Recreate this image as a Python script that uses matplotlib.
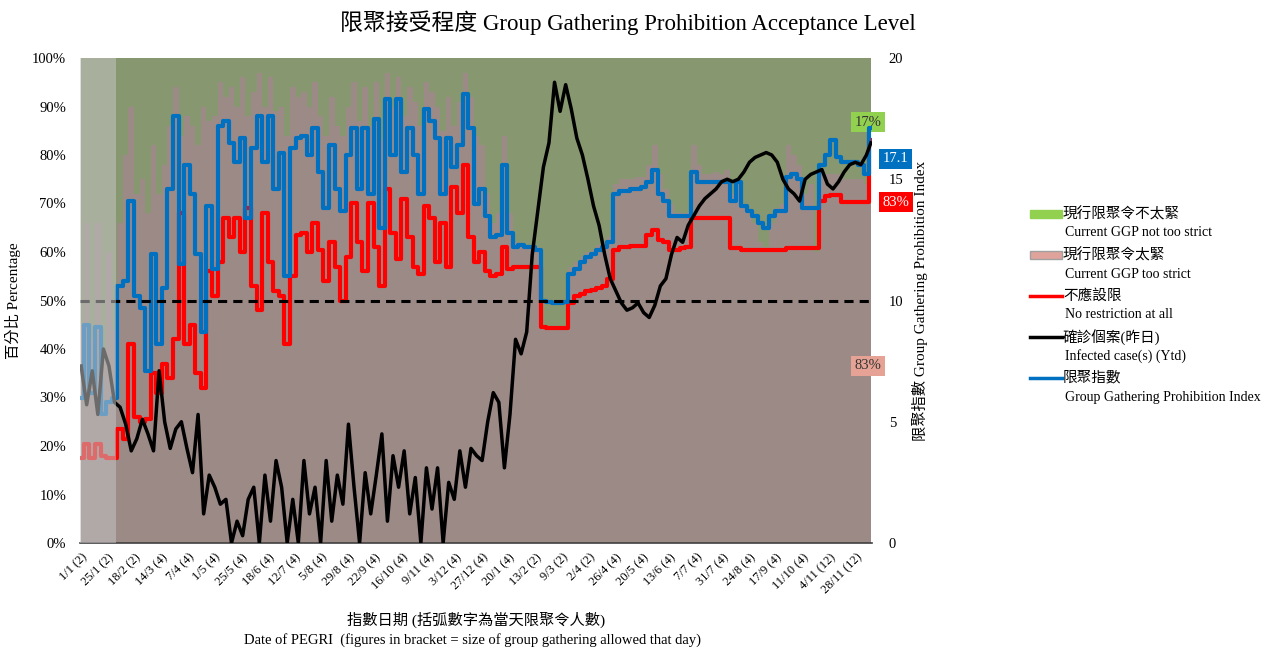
import numpy as np
import matplotlib
matplotlib.use("Agg")
import matplotlib.pyplot as plt
from matplotlib.patches import Rectangle
from matplotlib.lines import Line2D

FAM = ['Liberation Serif', 'Noto Sans CJK TC', 'DejaVu Sans']
plt.rcParams['font.family'] = FAM

# ---------------- data (sampled every 5 days from 1/1/2020) ----------------
days = np.r_[np.arange(0, 706, 5), 709]

tick_labels = ['1/1 (2)', '25/1 (2)', '18/2 (2)', '14/3 (4)', '7/4 (4)', '1/5 (4)', '25/5 (4)',
               '18/6 (4)', '12/7 (4)', '5/8 (4)', '29/8 (4)', '22/9 (4)', '16/10 (4)', '9/11 (4)',
               '3/12 (4)', '27/12 (4)', '20/1 (4)', '13/2 (2)', '9/3 (2)', '2/4 (2)', '26/4 (4)',
               '20/5 (4)', '13/6 (4)', '7/7 (4)', '31/7 (4)', '24/8 (4)', '17/9 (4)', '11/10 (4)',
               '4/11 (12)', '28/11 (12)']

# share "current GGP too strict" (%), the rest up to 100% is "not too strict"
too_strict = [45, 66, 42, 66, 40, 60, 44, 66, 80, 90, 72, 75, 68, 82, 72, 78, 86, 94, 84, 88,
              86, 82, 90, 87, 88, 95, 92, 94, 90, 96, 88, 93, 97, 90, 96, 89,
              90, 84, 94, 92, 93, 90, 95, 88, 84, 92, 86, 84, 90, 95, 87, 94, 86, 95, 83, 97,
              90, 96, 88, 94, 91, 86, 95, 93, 90, 85, 92, 86, 91, 97, 92, 84,
              82, 72, 66, 68, 84, 68, 62, 61.5, 61.5, 61.5, 61, 44.5, 44.3, 44.3, 44.3, 44.3,
              57, 58, 59, 60, 60.5, 61.5, 62, 63, 74, 75, 75, 75, 75.5, 75.5, 78, 82, 76, 73, 70, 68,
              68, 68, 82, 78, 76, 76, 76.5, 76, 77, 72, 75, 69, 68, 66, 62, 61, 66, 69, 70, 82,
              80, 78, 72, 74, 60, 77, 76, 76, 76, 75, 75, 75, 75, 74, 83]

# "No restriction at all" (%)
no_restriction = [17.5, 20.5, 17.5, 20.5, 18, 17.5, 17.5, 23.5, 21.5, 41, 26, 25, 25.5, 35, 31, 37,
                  34, 42, 68, 41, 45, 35, 32, 56, 51, 58, 67, 63, 67, 60, 69, 53, 48, 68, 58, 52,
                  51, 41, 55, 63.5, 64, 60, 66, 60.5, 54, 62, 57, 50, 59, 70, 62, 56, 70, 61, 53, 73,
                  64, 58.5, 71, 63, 57, 55.5, 69.5, 67, 58, 66, 57, 73.5, 68, 78, 63, 58,
                  60, 56, 55, 55.5, 61, 56.5, 57, 57, 57, 57, 57, 44.5, 44.3, 44.3, 44.3, 44.3,
                  49.5, 51, 51.3, 52, 52.2, 52.5, 53, 54.5, 60.5, 61, 61, 61.2, 61.2, 61.3,
                  63.5, 64.5, 62.5, 62, 60.5, 60.5,
                  60.8, 61, 67, 67, 67, 67, 67, 67, 67, 60.8, 60.8, 60.4, 60.4, 60.4, 60.4, 60.4,
                  60.4, 60.4, 60.4, 60.9, 60.9, 60.9, 60.9, 60.9, 60.9, 70.5, 71.5, 71.7, 71.7,
                  70.4, 70.4, 70.4, 70.4, 70.4, 83]

# Infected cases (yesterday), right-axis scale
infected = [7.3, 5.7, 7.1, 5.3, 8.0, 7.3, 5.8, 5.6, 4.9, 3.8, 4.3, 5.1, 4.5, 3.8, 7.1, 5.0, 3.9, 4.7,
            5.0, 3.9, 2.9, 5.3, 1.2, 2.8, 2.3, 1.6, 1.8, 0, 0.9, 0.3, 1.8, 2.3, 0, 2.8, 0.9, 3.4,
            2.3, 0, 1.8, 0, 3.4, 1.2, 2.3, 0, 3.4, 0.9, 2.8, 1.6, 4.9, 2.3, 0, 2.9, 1.2, 2.8,
            4.5, 0.9, 3.6, 2.3, 3.8, 1.2, 2.7, 0, 3.1, 1.4, 3.1, 0, 2.5, 1.8, 3.8, 2.3, 3.9, 3.6,
            3.4, 5.0, 6.2, 5.8, 3.1, 5.3, 8.4, 7.8, 8.7, 11.9, 13.7, 15.5, 16.5, 19.0, 17.8, 18.9,
            17.9, 16.7, 16.0, 15.0, 13.9, 13.1, 11.9, 10.9, 10.4, 9.9, 9.6, 9.7, 9.9, 9.5, 9.3,
            9.8, 10.6, 10.9, 11.9, 12.6,
            12.4, 13.1, 13.5, 13.9, 14.2, 14.4, 14.6, 14.9, 15.0, 14.9, 15.0, 15.3, 15.7, 15.9,
            16.0, 16.1, 16.0, 15.7, 15.0, 14.6, 14.4, 14.1, 15.0, 15.2, 15.3, 15.4, 14.8, 14.6,
            14.9, 15.3, 15.6, 15.7, 15.6, 16.0, 16.5]

# Group Gathering Prohibition Index (right axis)
ggpi = [6.0, 9.0, 6.2, 8.9, 5.3, 5.8, 6.0, 10.6, 10.8, 14.1, 10.2, 9.7, 7.1, 11.9, 8.2, 10.5, 14.6,
        17.6, 11.5, 15.6, 14.4, 11.9, 8.7, 13.9, 11.3, 17.2, 17.4, 16.5, 15.7, 16.7, 13.4, 16.3,
        17.6, 15.7, 17.6, 14.6,
        16.1, 11.0, 16.3, 16.7, 16.8, 16.0, 17.1, 15.3, 13.8, 16.4, 14.6, 13.7, 16.0, 17.1, 14.6,
        17.1, 14.4, 17.5, 13.0, 18.3, 16.0, 18.3, 15.3, 17.1, 16.0, 14.4, 17.9, 17.4, 16.7, 14.4,
        16.7, 15.5, 16.4, 18.5, 17.1, 14.0,
        14.6, 13.5, 12.6, 12.7, 15.6, 12.8, 12.2, 12.3, 12.2, 12.2, 12.1, 10.0, 9.95, 9.9, 9.9,
        9.95, 11.1, 11.3, 11.6, 11.8, 11.9, 12.1, 12.2, 12.4, 14.4, 14.5, 14.5, 14.6, 14.6, 14.7,
        14.9, 15.4, 14.4, 14.1, 13.5, 13.5,
        13.5, 13.5, 15.3, 14.9, 14.9, 14.9, 14.9, 14.9, 14.9, 14.1, 14.9, 13.9, 13.7, 13.5, 13.2,
        13.0, 13.5, 13.7, 13.7, 15.1, 15.2, 15.0, 13.8, 13.8, 13.8, 15.6, 16.0, 16.6, 15.9, 15.7,
        15.7, 15.7, 15.6, 15.2, 17.1]

too_strict = np.array(too_strict, float)
no_restriction = np.array(no_restriction, float)
infected = np.array(infected, float)
ggpi = np.array(ggpi, float)

# ---------------- figure ----------------
W, H = 1277, 649
fig = plt.figure(figsize=(W / 100, H / 100), dpi=100)
ax = fig.add_axes([80 / W, 1 - 543 / H, 792 / W, 485 / H])
ax2 = ax.twinx()

PINK_AREA = '#9C8A87'
GREEN_AREA = '#87976F'
ax.fill_between(days, 0, too_strict, step='mid', color=PINK_AREA, lw=0, zorder=1)
ax.fill_between(days, too_strict, 100, step='mid', color=GREEN_AREA, lw=0, zorder=1)
ax.plot(days, no_restriction, drawstyle='steps-mid', color='#FF0000', lw=3.0, zorder=3)

ax2.plot(days, ggpi, drawstyle='steps-mid', color='#0070C0', lw=3.0, zorder=2)
ax2.plot(days, infected, color='black', lw=2.5, zorder=3)
ax2.axhline(10, color='black', lw=2.2, dashes=(3, 2), zorder=4)
# faded first period
ax2.axvspan(-1, 31, color='#C4C4C4', alpha=0.55, lw=0, zorder=10)

ax.set_xlim(-1, 710)
ax.set_ylim(0, 100)
ax2.set_ylim(0, 20)

ax.set_yticks(np.arange(0, 101, 10))
ax.set_yticklabels([f'{v}%' for v in range(0, 101, 10)], fontsize=10.5)
ax2.set_yticks([0, 5, 10, 15, 20])
ax2.set_yticklabels(['0', '5', '10', '15', '20'], fontsize=10.5)
ax.tick_params(axis='y', length=0, pad=10)
ax2.tick_params(axis='y', length=0, pad=12)

ax.set_xticks(np.arange(0, 697, 24))
ax.set_xticklabels(tick_labels, rotation=45, ha='right', va='top', rotation_mode='anchor',
                   fontsize=9)
ax.tick_params(axis='x', length=0, pad=6)

for a in (ax, ax2):
    for s in ('top', 'right', 'left'):
        a.spines[s].set_visible(False)
ax2.spines['bottom'].set_visible(False)
ax.spines['bottom'].set_color('#404040')
ax.spines['bottom'].set_linewidth(1.2)

ax.set_ylabel('百分比 Percentage', fontsize=11, labelpad=8)
ax2.set_ylabel('限聚指數 Group Gathering Prohibition Index', fontsize=11, labelpad=6)

fig.text(476 / W, 1 - 620 / H, '指數日期 (括弧數字為當天限聚令人數)', ha='center', va='center',
         fontsize=11)
fig.text(472 / W, 1 - 640 / H,
         'Date of PEGRI  (figures in bracket = size of group gathering allowed that day)',
         ha='center', va='center', fontsize=10.5)
fig.text(628 / W, 1 - 23 / H, '限聚接受程度 Group Gathering Prohibition Acceptance Level',
         ha='center', va='center', fontsize=16.5)

# end-value labels
def box(x, y, s, fc, tc):
    ax.text(x, y, s, transform=ax.transAxes, ha='center', va='center', fontsize=10.5,
            color=tc, clip_on=False, zorder=20,
            bbox=dict(boxstyle='square,pad=0.25', fc=fc, ec='none'))

box(0.995, 0.868, f'{100 - too_strict[-1]:.0f}%', '#92D050', '#333333')
box(0.995, 0.365, f'{too_strict[-1]:.0f}%', '#E6A395', '#333333')
box(1.030, 0.792, f'{ggpi[-1]:.1f}', '#0070C0', 'white')
box(1.030, 0.703, f'{no_restriction[-1]:.0f}%', '#FF0000', 'white')

# manual legend
lax = fig.add_axes([0, 0, 1, 1])
lax.set_xlim(0, W)
lax.set_ylim(H, 0)
lax.axis('off')
lax.patch.set_alpha(0)
entries = [('patch', '#92D050', '#92D050', '現行限聚令不太緊', 'Current GGP not too strict'),
           ('patch', '#E0A39B', '#A0A0A0', '現行限聚令太緊', 'Current GGP too strict'),
           ('line', '#FF0000', None, '不應設限', 'No restriction at all'),
           ('line', '#000000', None, '確診個案(昨日)', 'Infected case(s) (Ytd)'),
           ('line', '#0070C0', None, '限聚指數', 'Group Gathering Prohibition Index')]
for i, (kind, c, ec, zh, en) in enumerate(entries):
    y = 214 + i * 41
    if kind == 'patch':
        lax.add_patch(Rectangle((1030, y - 4), 32, 8, fc=c, ec=ec, lw=1))
    else:
        lax.add_line(Line2D([1030, 1062], [y, y], color=c, lw=2.5))
    lax.text(1063, y, zh, ha='left', va='center', fontsize=10.5)
    lax.text(1065, y + 19, en, ha='left', va='center', fontsize=10)

fig.savefig('out.png', dpi=100)
